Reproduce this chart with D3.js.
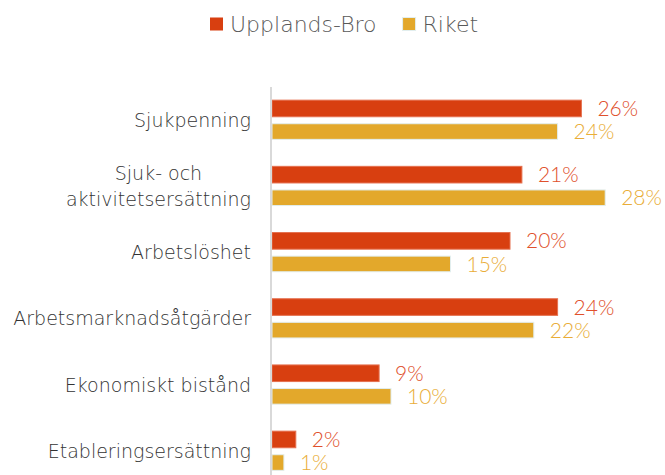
<!DOCTYPE html>
<html>
<head>
<meta charset="utf-8">
<script src="https://cdn.jsdelivr.net/npm/d3@7/dist/d3.min.js"></script>
<style>
  html, body { margin: 0; padding: 0; background: #fff; }
  svg text { font-family: "DejaVu Sans", sans-serif; font-weight: 200; }
  svg text.val { font-family: "Lato", sans-serif; font-weight: 300; }
</style>
</head>
<body>
<svg id="chart" width="665" height="475"></svg>
<script>
// Categories (label lines) and shares per series, in percent
const categories = [
  ["Sjukpenning"],
  ["Sjuk- och", "aktivitetsersättning"],
  ["Arbetslöshet"],
  ["Arbetsmarknadsåtgärder"],
  ["Ekonomiskt bistånd"],
  ["Etableringsersättning"]
];
const seriesNames = ["Upplands-Bro", "Riket"];
const upplandsBro = [26, 21, 20, 24, 9, 2];
const riket = [24, 28, 15, 22, 10, 1];
const seriesColors = ["#d83f10", "#e3a82b"];
const labelColors = ["#e0502c", "#e9ad38"];

const svg = d3.select("#chart");
const H = 475;
const axisX = 272;

const x = d3.scaleLinear().domain([0, 30]).range([axisX, axisX + 357]);
const y = d3.scaleBand()
  .domain(d3.range(categories.length))
  .range([86.9, 484.1])
  .paddingInner(0.4)
  .paddingOuter(0.2);
const sub = d3.scaleBand()
  .domain([0, 1])
  .range([0, y.bandwidth()])
  .paddingInner(0.28);

const series = [upplandsBro, riket];

// Bars
series.forEach((vals, si) => {
  const inset = si === 1 ? 0.5 : 0;
  svg.append("g").selectAll("rect")
    .data(vals)
    .join("rect")
    .attr("x", x(0))
    .attr("y", (d, i) => y(i) + sub(si) + inset)
    .attr("width", d => x(d) - x(0))
    .attr("height", sub.bandwidth() - 2 * inset)
    .attr("fill", seriesColors[si])
    .attr("stroke", si === 1 ? "#e2eeee" : "#e5704f")
    .attr("stroke-width", 1);
});

// Value labels
series.forEach((vals, si) => {
  svg.append("g").selectAll("text")
    .data(vals)
    .join("text")
    .attr("class", "val")
    .attr("x", d => x(d) + 16)
    .attr("y", (d, i) => y(i) + sub(si) + sub.bandwidth() / 2)
    .attr("dy", "0.36em")
    .attr("fill", labelColors[si])
    .attr("font-size", 21)
    .text(d => d + "%");
});

// Vertical axis line
svg.append("line")
  .attr("x1", axisX - 1).attr("x2", axisX - 1)
  .attr("y1", 87).attr("y2", H)
  .attr("stroke", "#d9d9d9")
  .attr("stroke-width", 2);

// Category labels: right-aligned block, lines centred within it
const catG = svg.append("g");
categories.forEach((lines, i) => {
  const cy = y(i) + y.bandwidth() / 2;
  const lh = 26;
  const g = catG.append("g");
  const texts = lines.map((ln, k) => g.append("text")
    .attr("y", cy + (k - (lines.length - 1) / 2) * lh)
    .attr("dy", "0.36em")
    .attr("font-size", 19)
    .attr("fill", "#333")
    .text(ln));
  const maxW = d3.max(texts, t => t.node().getComputedTextLength());
  const right = 251;
  texts.forEach(t => t.attr("x", right - maxW / 2).attr("text-anchor", "middle"));
});

// Legend
const legend = svg.append("g");
let lx = 210;
seriesNames.forEach((name, si) => {
  legend.append("rect")
    .attr("x", lx).attr("y", 17.5)
    .attr("width", 13).attr("height", 13)
    .attr("fill", seriesColors[si])
    .attr("stroke", si === 1 ? "#e2eeee" : "none");
  const t = legend.append("text")
    .attr("x", lx + 20).attr("y", 32)
    .attr("font-size", 22)
    .attr("fill", "#595959")
    .text(name);
  lx += 20 + t.node().getComputedTextLength() + 26;
});
</script>
</body>
</html>
